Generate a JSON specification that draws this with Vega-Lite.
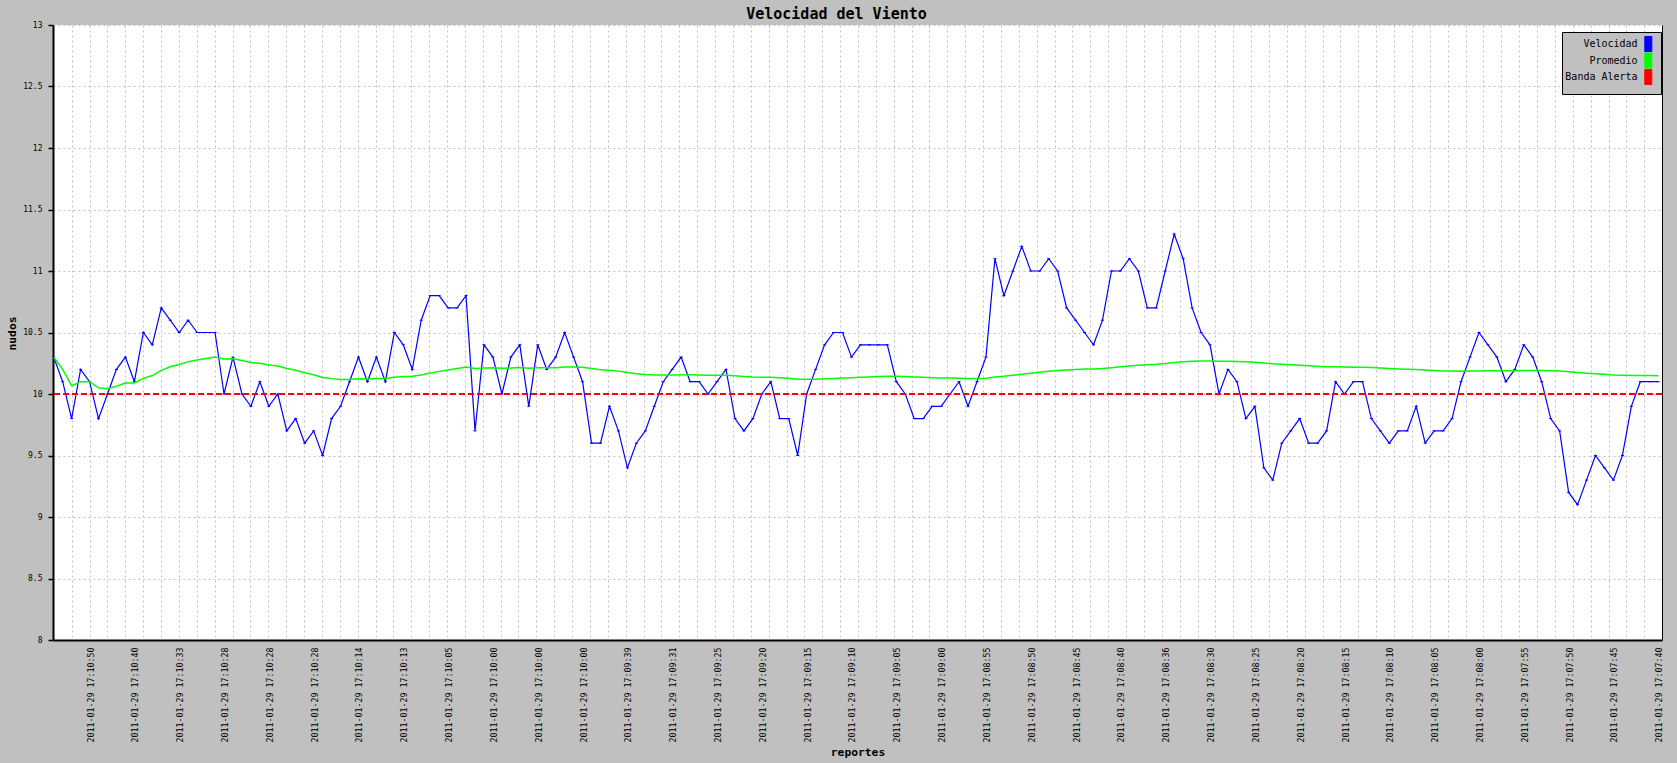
{
  "$schema": "https://vega.github.io/schema/vega-lite/v6.json",
  "width": 1609,
  "height": 615,
  "autosize": {"type": "none"},
  "padding": {"left": 53, "top": 25, "right": 15, "bottom": 123},
  "background": "#C0C0C0",
  "title": {"text": "Velocidad del Viento", "font": "DejaVu Sans Mono", "fontSize": 15, "fontWeight": "bold", "color": "black", "anchor": "middle", "frame": "group", "offset": -1, "dx": -21},
  "config": {
    "view": {"fill": "white", "stroke": null},
    "font": "DejaVu Sans Mono"
  },
  "data": {"values": [
    {"i":0,"velocidad":10.3,"promedio":10.3},{"i":1,"velocidad":10.1,"promedio":10.2},{"i":2,"velocidad":9.8,"promedio":10.067},{"i":3,"velocidad":10.2,"promedio":10.1},{"i":4,"velocidad":10.1,"promedio":10.1},
    {"i":5,"velocidad":9.8,"promedio":10.05},{"i":6,"velocidad":10.0,"promedio":10.043},{"i":7,"velocidad":10.2,"promedio":10.063},{"i":8,"velocidad":10.3,"promedio":10.089},{"i":9,"velocidad":10.1,"promedio":10.09},
    {"i":10,"velocidad":10.5,"promedio":10.127},{"i":11,"velocidad":10.4,"promedio":10.15},{"i":12,"velocidad":10.7,"promedio":10.192},{"i":13,"velocidad":10.6,"promedio":10.221},{"i":14,"velocidad":10.5,"promedio":10.24},
    {"i":15,"velocidad":10.6,"promedio":10.263},{"i":16,"velocidad":10.5,"promedio":10.276},{"i":17,"velocidad":10.5,"promedio":10.289},{"i":18,"velocidad":10.5,"promedio":10.3},{"i":19,"velocidad":10.0,"promedio":10.285},
    {"i":20,"velocidad":10.3,"promedio":10.286},{"i":21,"velocidad":10.0,"promedio":10.273},{"i":22,"velocidad":9.9,"promedio":10.257},{"i":23,"velocidad":10.1,"promedio":10.25},{"i":24,"velocidad":9.9,"promedio":10.236},
    {"i":25,"velocidad":10.0,"promedio":10.227},{"i":26,"velocidad":9.7,"promedio":10.207},{"i":27,"velocidad":9.8,"promedio":10.193},{"i":28,"velocidad":9.6,"promedio":10.172},{"i":29,"velocidad":9.7,"promedio":10.157},
    {"i":30,"velocidad":9.5,"promedio":10.135},{"i":31,"velocidad":9.8,"promedio":10.125},{"i":32,"velocidad":9.9,"promedio":10.118},{"i":33,"velocidad":10.1,"promedio":10.118},{"i":34,"velocidad":10.3,"promedio":10.123},
    {"i":35,"velocidad":10.1,"promedio":10.122},{"i":36,"velocidad":10.3,"promedio":10.127},{"i":37,"velocidad":10.1,"promedio":10.126},{"i":38,"velocidad":10.5,"promedio":10.136},{"i":39,"velocidad":10.4,"promedio":10.143},
    {"i":40,"velocidad":10.2,"promedio":10.144},{"i":41,"velocidad":10.6,"promedio":10.155},{"i":42,"velocidad":10.8,"promedio":10.17},{"i":43,"velocidad":10.8,"promedio":10.184},{"i":44,"velocidad":10.7,"promedio":10.196},
    {"i":45,"velocidad":10.7,"promedio":10.207},{"i":46,"velocidad":10.8,"promedio":10.219},{"i":47,"velocidad":9.7,"promedio":10.208},{"i":48,"velocidad":10.4,"promedio":10.212},{"i":49,"velocidad":10.3,"promedio":10.214},
    {"i":50,"velocidad":10.0,"promedio":10.21},{"i":51,"velocidad":10.3,"promedio":10.212},{"i":52,"velocidad":10.4,"promedio":10.215},{"i":53,"velocidad":9.9,"promedio":10.209},{"i":54,"velocidad":10.4,"promedio":10.213},
    {"i":55,"velocidad":10.2,"promedio":10.213},{"i":56,"velocidad":10.3,"promedio":10.214},{"i":57,"velocidad":10.5,"promedio":10.219},{"i":58,"velocidad":10.3,"promedio":10.22},{"i":59,"velocidad":10.1,"promedio":10.218},
    {"i":60,"velocidad":9.6,"promedio":10.208},{"i":61,"velocidad":9.6,"promedio":10.198},{"i":62,"velocidad":9.9,"promedio":10.194},{"i":63,"velocidad":9.7,"promedio":10.186},{"i":64,"velocidad":9.4,"promedio":10.174},
    {"i":65,"velocidad":9.6,"promedio":10.165},{"i":66,"velocidad":9.7,"promedio":10.158},{"i":67,"velocidad":9.9,"promedio":10.154},{"i":68,"velocidad":10.1,"promedio":10.154},{"i":69,"velocidad":10.2,"promedio":10.154},
    {"i":70,"velocidad":10.3,"promedio":10.156},{"i":71,"velocidad":10.1,"promedio":10.156},{"i":72,"velocidad":10.1,"promedio":10.155},{"i":73,"velocidad":10.0,"promedio":10.153},{"i":74,"velocidad":10.1,"promedio":10.152},
    {"i":75,"velocidad":10.2,"promedio":10.153},{"i":76,"velocidad":9.8,"promedio":10.148},{"i":77,"velocidad":9.7,"promedio":10.142},{"i":78,"velocidad":9.8,"promedio":10.138},{"i":79,"velocidad":10.0,"promedio":10.136},
    {"i":80,"velocidad":10.1,"promedio":10.136},{"i":81,"velocidad":9.8,"promedio":10.132},{"i":82,"velocidad":9.8,"promedio":10.128},{"i":83,"velocidad":9.5,"promedio":10.12},{"i":84,"velocidad":10.0,"promedio":10.119},
    {"i":85,"velocidad":10.2,"promedio":10.12},{"i":86,"velocidad":10.4,"promedio":10.123},{"i":87,"velocidad":10.5,"promedio":10.127},{"i":88,"velocidad":10.5,"promedio":10.131},{"i":89,"velocidad":10.3,"promedio":10.133},
    {"i":90,"velocidad":10.4,"promedio":10.136},{"i":91,"velocidad":10.4,"promedio":10.139},{"i":92,"velocidad":10.4,"promedio":10.142},{"i":93,"velocidad":10.4,"promedio":10.145},{"i":94,"velocidad":10.1,"promedio":10.144},
    {"i":95,"velocidad":10.0,"promedio":10.143},{"i":96,"velocidad":9.8,"promedio":10.139},{"i":97,"velocidad":9.8,"promedio":10.136},{"i":98,"velocidad":9.9,"promedio":10.133},{"i":99,"velocidad":9.9,"promedio":10.131},
    {"i":100,"velocidad":10.0,"promedio":10.13},{"i":101,"velocidad":10.1,"promedio":10.129},{"i":102,"velocidad":9.9,"promedio":10.127},{"i":103,"velocidad":10.1,"promedio":10.127},{"i":104,"velocidad":10.3,"promedio":10.129},
    {"i":105,"velocidad":11.1,"promedio":10.138},{"i":106,"velocidad":10.8,"promedio":10.144},{"i":107,"velocidad":11.0,"promedio":10.152},{"i":108,"velocidad":11.2,"promedio":10.161},{"i":109,"velocidad":11.0,"promedio":10.169},
    {"i":110,"velocidad":11.0,"promedio":10.177},{"i":111,"velocidad":11.1,"promedio":10.185},{"i":112,"velocidad":11.0,"promedio":10.192},{"i":113,"velocidad":10.7,"promedio":10.196},{"i":114,"velocidad":10.6,"promedio":10.2},
    {"i":115,"velocidad":10.5,"promedio":10.203},{"i":116,"velocidad":10.4,"promedio":10.204},{"i":117,"velocidad":10.6,"promedio":10.208},{"i":118,"velocidad":11.0,"promedio":10.214},{"i":119,"velocidad":11.0,"promedio":10.221},
    {"i":120,"velocidad":11.1,"promedio":10.228},{"i":121,"velocidad":11.0,"promedio":10.234},{"i":122,"velocidad":10.7,"promedio":10.238},{"i":123,"velocidad":10.7,"promedio":10.242},{"i":124,"velocidad":11.0,"promedio":10.248},
    {"i":125,"velocidad":11.3,"promedio":10.256},{"i":126,"velocidad":11.1,"promedio":10.263},{"i":127,"velocidad":10.7,"promedio":10.266},{"i":128,"velocidad":10.5,"promedio":10.268},{"i":129,"velocidad":10.4,"promedio":10.269},
    {"i":130,"velocidad":10.0,"promedio":10.267},{"i":131,"velocidad":10.2,"promedio":10.267},{"i":132,"velocidad":10.1,"promedio":10.265},{"i":133,"velocidad":9.8,"promedio":10.262},{"i":134,"velocidad":9.9,"promedio":10.259},
    {"i":135,"velocidad":9.4,"promedio":10.253},{"i":136,"velocidad":9.3,"promedio":10.246},{"i":137,"velocidad":9.6,"promedio":10.241},{"i":138,"velocidad":9.7,"promedio":10.237},{"i":139,"velocidad":9.8,"promedio":10.234},
    {"i":140,"velocidad":9.6,"promedio":10.23},{"i":141,"velocidad":9.6,"promedio":10.225},{"i":142,"velocidad":9.7,"promedio":10.222},{"i":143,"velocidad":10.1,"promedio":10.221},{"i":144,"velocidad":10.0,"promedio":10.219},
    {"i":145,"velocidad":10.1,"promedio":10.218},{"i":146,"velocidad":10.1,"promedio":10.218},{"i":147,"velocidad":9.8,"promedio":10.215},{"i":148,"velocidad":9.7,"promedio":10.211},{"i":149,"velocidad":9.6,"promedio":10.207},
    {"i":150,"velocidad":9.7,"promedio":10.204},{"i":151,"velocidad":9.7,"promedio":10.201},{"i":152,"velocidad":9.9,"promedio":10.199},{"i":153,"velocidad":9.6,"promedio":10.195},{"i":154,"velocidad":9.7,"promedio":10.192},
    {"i":155,"velocidad":9.7,"promedio":10.188},{"i":156,"velocidad":9.8,"promedio":10.186},{"i":157,"velocidad":10.1,"promedio":10.185},{"i":158,"velocidad":10.3,"promedio":10.186},{"i":159,"velocidad":10.5,"promedio":10.188},
    {"i":160,"velocidad":10.4,"promedio":10.189},{"i":161,"velocidad":10.3,"promedio":10.19},{"i":162,"velocidad":10.1,"promedio":10.19},{"i":163,"velocidad":10.2,"promedio":10.19},{"i":164,"velocidad":10.4,"promedio":10.191},
    {"i":165,"velocidad":10.3,"promedio":10.192},{"i":166,"velocidad":10.1,"promedio":10.191},{"i":167,"velocidad":9.8,"promedio":10.189},{"i":168,"velocidad":9.7,"promedio":10.186},{"i":169,"velocidad":9.2,"promedio":10.18},
    {"i":170,"velocidad":9.1,"promedio":10.174},{"i":171,"velocidad":9.3,"promedio":10.169},{"i":172,"velocidad":9.5,"promedio":10.165},{"i":173,"velocidad":9.4,"promedio":10.16},{"i":174,"velocidad":9.3,"promedio":10.155},
    {"i":175,"velocidad":9.5,"promedio":10.152},{"i":176,"velocidad":9.9,"promedio":10.15},{"i":177,"velocidad":10.1,"promedio":10.15},{"i":178,"velocidad":10.1,"promedio":10.15},{"i":179,"velocidad":10.1,"promedio":10.149}
  ]},
  "layer": [
    {
      "mark": {"type": "line", "strokeWidth": 1.2},
      "encoding": {
        "x": {"field": "i", "type": "quantitative",
          "scale": {"domain": [-0.078, 179.418], "nice": false, "zero": false},
          "axis": {"orient": "bottom", "title": null, "labels": false, "ticks": false, "domain": false, "grid": true,
            "gridColor": "#C0C0C0", "gridDash": [2, 3], "gridWidth": 1,
            "values": [2.01,4.0,5.99,7.99,9.98,11.98,13.97,15.96,17.96,19.95,21.94,23.94,25.93,27.92,29.92,31.91,33.9,35.9,37.89,39.88,41.88,43.87,45.86,47.86,49.85,51.85,53.84,55.83,57.83,59.82,61.81,63.81,65.8,67.79,69.79,71.78,73.77,75.77,77.76,79.75,81.75,83.74,85.73,87.73,89.72,91.72,93.71,95.7,97.7,99.69,101.68,103.68,105.67,107.66,109.66,111.65,113.64,115.64,117.63,119.62,121.62,123.61,125.6,127.6,129.59,131.59,133.58,135.57,137.57,139.56,141.55,143.55,145.54,147.53,149.53,151.52,153.51,155.51,157.5,159.49,161.49,163.48,165.47,167.47,169.46,171.46,173.45,175.44,177.44]}},
        "y": {"field": "velocidad", "type": "quantitative",
          "scale": {"domain": [8, 13], "nice": false, "zero": false},
          "axis": {"orient": "left", "values": [8, 8.5, 9, 9.5, 10, 10.5, 11, 11.5, 12, 12.5, 13], "format": "~g",
            "labelFont": "DejaVu Sans Mono", "labelFontSize": 8, "labelColor": "black", "labelPadding": 6,
            "ticks": true, "tickSize": 5, "tickColor": "black", "tickWidth": 1.5,
            "domain": true, "domainColor": "black", "domainWidth": 2,
            "grid": true, "gridColor": "#C0C0C0", "gridDash": [2, 3], "gridWidth": 1,
            "title": "nudos", "titleFont": "DejaVu Sans Mono", "titleFontSize": 11.3, "titleFontWeight": "bold", "titleColor": "black",
            "titleAngle": 270, "titleAlign": "center", "titleBaseline": "middle", "titleX": -41, "titleY": 308}},
        "color": {"datum": "Velocidad",
          "scale": {"domain": ["Velocidad", "Promedio", "Banda Alerta"], "range": ["#0000FF", "#00FF00", "#FF0000"]},
          "legend": {"orient": "none", "legendX": 1509, "legendY": 7, "title": null,
            "fillColor": "#C0C0C0", "strokeColor": "black", "padding": 7, "rowPadding": -3.5,
            "labelFont": "DejaVu Sans Mono", "labelFontSize": 10, "labelColor": "black", "labelAlign": "right",
            "labelOffset": -15.7, "symbolOffset": 74.3,
            "symbolType": "M-0.875,-1.875H0.875V1.875H-0.875Z", "symbolSize": 64, "symbolStrokeColor": "black", "symbolStrokeWidth": 1,
            "encode": {"symbols": {"update": {"fill": {"scale": "color", "field": "value"}, "stroke": {"value": "black"}, "strokeWidth": {"value": 1}, "strokeDash": {"value": []}, "opacity": {"value": 1}}}}}}
      }
    },
    {
      "mark": {"type": "point", "shape": "stroke", "size": 9, "strokeWidth": 1, "stroke": "#0000FF", "filled": false, "opacity": 1},
      "encoding": {
        "x": {"field": "i", "type": "quantitative", "axis": null},
        "y": {"field": "velocidad", "type": "quantitative", "axis": null}
      }
    },
    {
      "mark": {"type": "line", "strokeWidth": 1.5},
      "encoding": {
        "x": {"field": "i", "type": "quantitative",
          "axis": {"orient": "bottom", "values": [4,9,14,19,24,29,34,39,44,49,54,59,64,69,74,79,84,89,94,99,104,109,114,119,124,129,134,139,144,149,154,159,164,169,174,179],
            "labelExpr": "['2011-01-29 17:10:50','2011-01-29 17:10:40','2011-01-29 17:10:33','2011-01-29 17:10:28','2011-01-29 17:10:28','2011-01-29 17:10:28','2011-01-29 17:10:14','2011-01-29 17:10:13','2011-01-29 17:10:05','2011-01-29 17:10:00','2011-01-29 17:10:00','2011-01-29 17:10:00','2011-01-29 17:09:39','2011-01-29 17:09:31','2011-01-29 17:09:25','2011-01-29 17:09:20','2011-01-29 17:09:15','2011-01-29 17:09:10','2011-01-29 17:09:05','2011-01-29 17:09:00','2011-01-29 17:08:55','2011-01-29 17:08:50','2011-01-29 17:08:45','2011-01-29 17:08:40','2011-01-29 17:08:36','2011-01-29 17:08:30','2011-01-29 17:08:25','2011-01-29 17:08:20','2011-01-29 17:08:15','2011-01-29 17:08:10','2011-01-29 17:08:05','2011-01-29 17:08:00','2011-01-29 17:07:55','2011-01-29 17:07:50','2011-01-29 17:07:45','2011-01-29 17:07:40'][round((datum.value-4)/5)]",
            "labelAngle": 270, "labelAlign": "right", "labelBaseline": "middle", "labelOffset": 1.5,
            "labelFont": "DejaVu Sans Mono", "labelFontSize": 8.3, "labelColor": "black", "labelPadding": 7,
            "labelOverlap": false, "labelBound": false, "labelFlush": false,
            "ticks": false, "tickSize": 0, "grid": false,
            "domain": true, "domainColor": "black", "domainWidth": 2,
            "title": "reportes", "titleFont": "DejaVu Sans Mono", "titleFontSize": 11.3, "titleFontWeight": "bold", "titleColor": "black",
            "titleBaseline": "middle", "titleY": 112}},
        "y": {"field": "promedio", "type": "quantitative",
          "axis": {"orient": "right", "title": null, "labels": false, "ticks": false, "grid": false,
            "domain": true, "domainColor": "black", "domainWidth": 1}},
        "color": {"datum": "Promedio"}
      }
    },
    {
      "mark": {"type": "rule", "strokeDash": [6, 3], "strokeWidth": 1.5},
      "encoding": {
        "y": {"datum": 10, "type": "quantitative", "axis": null},
        "color": {"datum": "Banda Alerta"}
      }
    }
  ],
  "resolve": {"axis": {"x": "independent", "y": "independent"}}
}
